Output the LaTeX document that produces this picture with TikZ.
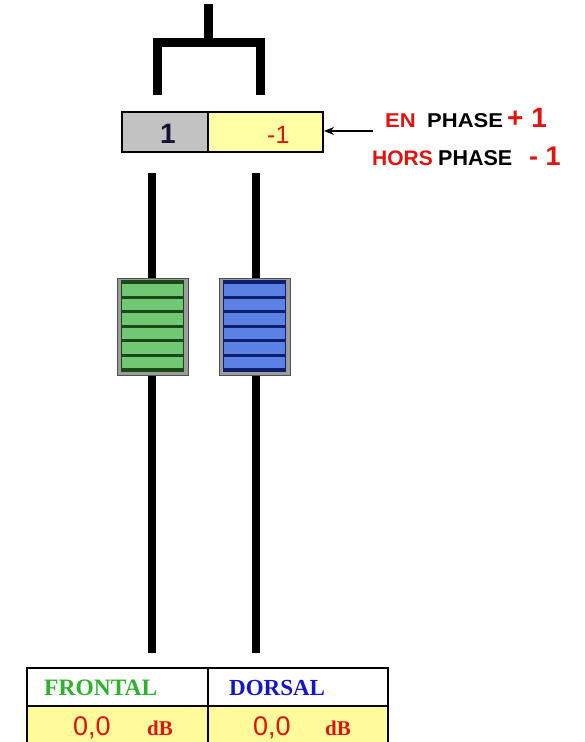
\documentclass[tikz,border=0pt]{standalone}
\usepackage{fontspec}
\newfontfamily\arialf{Liberation Sans}
\newfontfamily\seriff{Liberation Serif}
\usetikzlibrary{arrows.meta}
\definecolor{phred}{HTML}{E0140F}
\definecolor{boxgray}{HTML}{C2C2C2}
\definecolor{boxyellow}{HTML}{FFFFA6}
\definecolor{tabyellow}{HTML}{FFFA9C}
\definecolor{navy}{HTML}{141432}
\definecolor{frgreen}{HTML}{2DB22D}
\definecolor{dsblue}{HTML}{1414C8}
\definecolor{capgray}{HTML}{9C9C9C}
\definecolor{capedge}{HTML}{505050}
\definecolor{fgreen}{HTML}{72C872}
\definecolor{dgreen}{HTML}{174A17}
\definecolor{fblue}{HTML}{5C82E6}
\definecolor{dblue}{HTML}{0E1F70}
\begin{document}
\begin{tikzpicture}[x=1pt,y=-1pt,
  txt/.style={inner sep=0pt,anchor=base west},
  cell/.style={draw=black,line width=2pt,inner sep=0pt,anchor=north west},
  thick9/.style={line width=9pt,line join=miter}]
\useasboundingbox (0,0) rectangle (585,742);
\clip (0,0) rectangle (585,742);
% bracket
\coordinate (stemtop) at (208,4);
\coordinate (stembot) at (208,42);
\coordinate (legL) at (157,95);
\coordinate (legR) at (260,95);
\draw[thick9] (legL) -- (157,42) -- (260,42) -- (legR);
\draw[thick9] (stemtop) -- (stembot);
% phase box
\node[cell,fill=boxgray,minimum width=86pt,minimum height=40pt] (c1) at (121,111) {};
\node[cell,fill=boxyellow,minimum width=115pt,minimum height=40pt] (c2) at (207,111) {};
\node[txt,text=navy,font=\arialf\bfseries\fontsize{28}{28}\selectfont] (n1) at (160,143) {1};
\node[txt,text=phred,font=\arialf\fontsize{25}{25}\selectfont] (n2) at (267,143) {-1};
% arrow
\coordinate (arrstart) at (373,131);
\draw[-{Stealth[length=10pt,width=8pt]},line width=1.5pt] (arrstart) -- (c2.east |- arrstart);
% phase labels
\node[txt,text=phred,font=\arialf\bfseries\fontsize{20}{20}\selectfont] (en) at (385,127) {\scalebox{1.1}[1]{EN}};
\node[txt,text=black,font=\arialf\bfseries\fontsize{20}{20}\selectfont] (ph1) at (427,127) {\scalebox{1.1}[1]{PHASE}};
\node[txt,text=phred,font=\arialf\bfseries\fontsize{28}{28}\selectfont] (p1) at (507,127) {+ 1};
\node[txt,text=phred,font=\arialf\bfseries\fontsize{21}{21}\selectfont] (hors) at (372,165) {HORS};
\node[txt,text=black,font=\arialf\bfseries\fontsize{21.5}{21.5}\selectfont] (ph2) at (438,165) {PHASE};
\node[txt,text=phred,font=\arialf\bfseries\fontsize{27}{27}\selectfont] (m1) at (529,165) {- 1};
% tracks
\coordinate (tLt) at (152,173);
\coordinate (tLb) at (152,653);
\coordinate (tRt) at (256,173);
\coordinate (tRb) at (256,653);
\draw[line width=8pt] (tLt) -- (tLb);
\draw[line width=8pt] (tRt) -- (tRb);
% fader caps
\foreach \x/\fc/\lc/\nm in {117/fgreen/dgreen/capL, 219/fblue/dblue/capR} {
  \node[draw=capedge,line width=1.2pt,fill=capgray,minimum width=71pt,minimum height=97pt,inner sep=0pt,anchor=north west] (\nm) at (\x,278) {};
  \fill[\fc] (\x+4.5,281) rectangle (\x+66.5,371);
  \foreach \k in {0,...,6} \draw[\lc,line width=3pt] (\x+4.5,282.5+14.5*\k) -- (\x+66.5,282.5+14.5*\k);
  \draw[\lc,line width=1.2pt] (\x+4.5,281) rectangle (\x+66.5,371);
}
% table
\node[cell,fill=white,minimum width=181pt,minimum height=38pt] (hF) at (26,667) {};
\node[cell,fill=white,minimum width=180pt,minimum height=38pt] (hD) at (207,667) {};
\node[cell,fill=tabyellow,minimum width=181pt,minimum height=50pt] (vF) at (26,705) {};
\node[cell,fill=tabyellow,minimum width=180pt,minimum height=50pt] (vD) at (207,705) {};
\node[txt,text=frgreen,font=\seriff\bfseries\fontsize{23.5}{23.5}\selectfont] (tF) at (44,695) {FRONTAL};
\node[txt,text=dsblue,font=\seriff\bfseries\fontsize{23}{23}\selectfont] (tD) at (229,695) {DORSAL};
\node[txt,text=phred,font=\arialf\fontsize{27}{27}\selectfont] (vF0) at (73,735) {0,0};
\node[txt,text=phred,font=\seriff\bfseries\fontsize{21}{21}\selectfont] (vFdb) at (147,735) {dB};
\node[txt,text=phred,font=\arialf\fontsize{27}{27}\selectfont] (vD0) at (253,735) {0,0};
\node[txt,text=phred,font=\seriff\bfseries\fontsize{21}{21}\selectfont] (vDdb) at (325,735) {dB};
\end{tikzpicture}
\end{document}
